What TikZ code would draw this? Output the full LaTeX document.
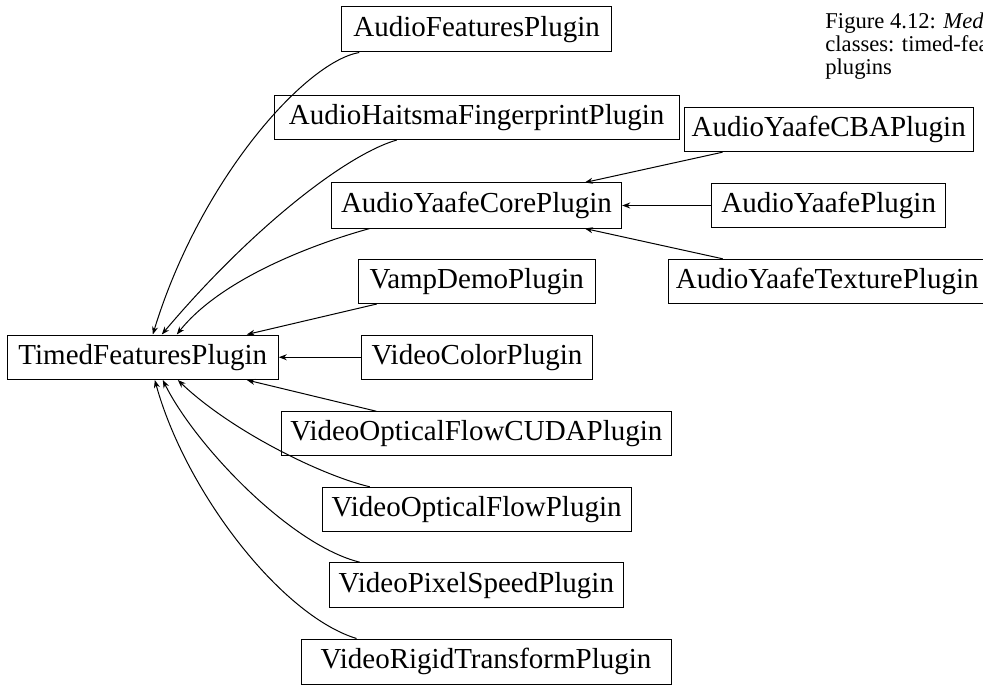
\documentclass[tikz,border=0pt]{standalone}
\usepackage{fontspec}
\setmainfont{Liberation Serif}
\usetikzlibrary{arrows.meta,calc}
\begin{document}
\begin{tikzpicture}[x=0.5pt,y=-0.5pt,
  cls/.style={draw, line width=0.5pt, inner sep=0pt, font=\fontsize{14.5}{17}\selectfont, anchor=center},
  capt/.style={anchor=base west, inner sep=0pt, font=\fontsize{11.3}{13}\selectfont},
  arr/.style={line width=0.5pt, -{Stealth[length=4pt,width=3pt]}}]
\clip (0,0) rectangle (983,684);
\fill[white] (0,0) rectangle (983,684);
% nodes
\node[cls, minimum width=135pt, minimum height=22.5pt] (AF) at (476.7,29.5) {AudioFeaturesPlugin};
\node[cls, minimum width=202.35pt, minimum height=21.75pt] (AH) at (476.65,117.75) {AudioHaitsmaFingerprintPlugin};
\node[cls, minimum width=145.2pt, minimum height=22.5pt] (AYC) at (476.5,205.5) {AudioYaafeCorePlugin};
\node[cls, minimum width=118.35pt, minimum height=22.25pt] (VD) at (476.65,281.25) {VampDemoPlugin};
\node[cls, minimum width=144.65pt, minimum height=22.2pt] (ACBA) at (828.65,129.5) {AudioYaafeCBAPlugin};
\node[cls, minimum width=117pt, minimum height=22.2pt] (AYP) at (828.7,205.5) {AudioYaafePlugin};
\node[cls, minimum width=159pt, minimum height=22pt, anchor=west] (AYT) at (667.7,281.3) {AudioYaafeTexturePlugin};
\node[cls, minimum width=135.5pt, minimum height=22.25pt] (TF) at (142.8,357.25) {TimedFeaturesPlugin};
\node[cls, minimum width=115.3pt, minimum height=22.25pt] (VC) at (477,357.25) {VideoColorPlugin};
\node[cls, minimum width=194.65pt, minimum height=22pt] (VOFC) at (476.35,433.7) {VideoOpticalFlowCUDAPlugin};
\node[cls, minimum width=154.35pt, minimum height=22.2pt] (VOF) at (476.65,509.5) {VideoOpticalFlowPlugin};
\node[cls, minimum width=147pt, minimum height=22.5pt] (VPS) at (476.3,585.2) {VideoPixelSpeedPlugin};
\node[cls, minimum width=185pt, minimum height=22.5pt] (VRT) at (486,661.5) {VideoRigidTransformPlugin};
% caption
\node[capt] (cap1) at (825,29) {Figure 4.12: \textit{Medi}};
\node[capt] (cap2) at (825,52) {classes: timed-fea};
\node[capt] (cap3) at (825,75) {plugins};
% connectors to TimedFeaturesPlugin
\draw[arr] ($(AF.south west)+(18,0)$) .. controls (305,62) and (200,180) .. ($(TF.north west)+(146,0)$);
\draw[arr] ($(AH.south west)+(123,0)$) .. controls (345,155) and (250,230) .. ($(TF.north west)+(155,0)$);
\draw[arr] ($(AYC.south west)+(39,0)$) .. controls (310,245) and (220,280) .. ($(TF.north west)+(170,0)$);
\draw[arr] ($(VD.south west)+(19,0)$) -- ($(TF.north west)+(240,0)$);
\draw[arr] (VC.west) -- (TF.east);
\draw[arr] ($(VOFC.north west)+(95,0)$) -- ($(TF.south west)+(240,0)$);
\draw[arr] ($(VOF.north west)+(48,0)$) .. controls (320,475) and (230,430) .. ($(TF.south west)+(171,0)$);
\draw[arr] ($(VPS.north west)+(31,0)$) .. controls (290,545) and (195,445) .. ($(TF.south west)+(156,0)$);
\draw[arr] ($(VRT.north west)+(56,0)$) .. controls (280,615) and (185,490) .. ($(TF.south west)+(148,0)$);
% connectors to AudioYaafeCorePlugin
\draw[arr] ($(ACBA.south west)+(39,0)$) -- ($(AYC.north west)+(254,0)$);
\draw[arr] (AYP.west) -- (AYC.east);
\draw[arr] ($(AYT.north west)+(55,0)$) -- ($(AYC.south west)+(254,0)$);
\end{tikzpicture}
\end{document}
